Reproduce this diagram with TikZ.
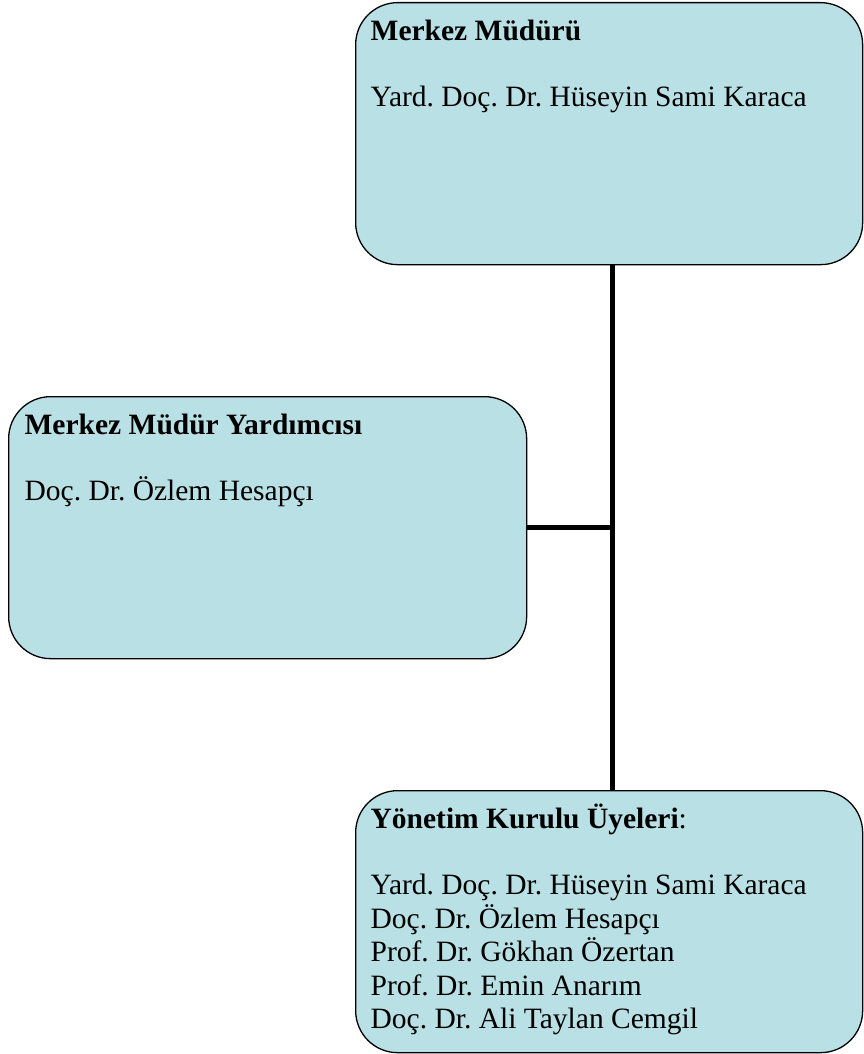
\documentclass[tikz,border=0pt]{standalone}
\usepackage{fontspec}
\setmainfont{Liberation Serif}
\usetikzlibrary{positioning}
\definecolor{boxblue}{RGB}{185,224,228}
\tikzset{
  orgbox/.style={draw, fill=boxblue, rounded corners=42pt, line width=1.3pt,
    anchor=north west, inner xsep=15pt, inner ysep=17pt, align=left},
  orgline/.style={line width=5.5pt}
}
\newcommand{\boxtext}[3][477pt]{\parbox[c][228pt][t]{#1}{\fontsize{29.5}{33.5}\selectfont\frenchspacing
\rule{0pt}{21pt}\smash{#2}\\[32.5pt]#3}}

\begin{document}
\begin{tikzpicture}
\useasboundingbox (0pt,0pt) rectangle (863pt,-1054pt);
\node[orgbox] (mudur) at (355pt,-2pt) {\boxtext{\textbf{Merkez Müdürü}}{%
Yard. Doç. Dr. Hüseyin Sami Karaca}};
\node[orgbox, inner xsep=16pt] (yardimci) at (8pt,-396pt) {\boxtext[486pt]{\textbf{Merkez Müdür Yardımcısı}}{%
Doç. Dr. Özlem Hesapçı}};
\node[orgbox] (uyeler) at (355pt,-790pt) {\boxtext{\textbf{Yönetim Kurulu Üyeleri}:}{%
Yard. Doç. Dr. Hüseyin Sami Karaca\\
Doç. Dr. Özlem Hesapçı\\
Prof. Dr. Gökhan Özertan\\
Prof. Dr. Emin Anarım\\
Doç. Dr. Ali Taylan Cemgil}};
% connectors
\coordinate (topend) at ([xshift=3.5pt]mudur.south);
\coordinate (bottomend) at ([xshift=3.5pt]uyeler.north);
\coordinate (joint) at (yardimci.east -| topend);
\draw[orgline] (topend) -- (bottomend);
\draw[orgline] (yardimci.east) -- (joint);
\end{tikzpicture}
\end{document}
